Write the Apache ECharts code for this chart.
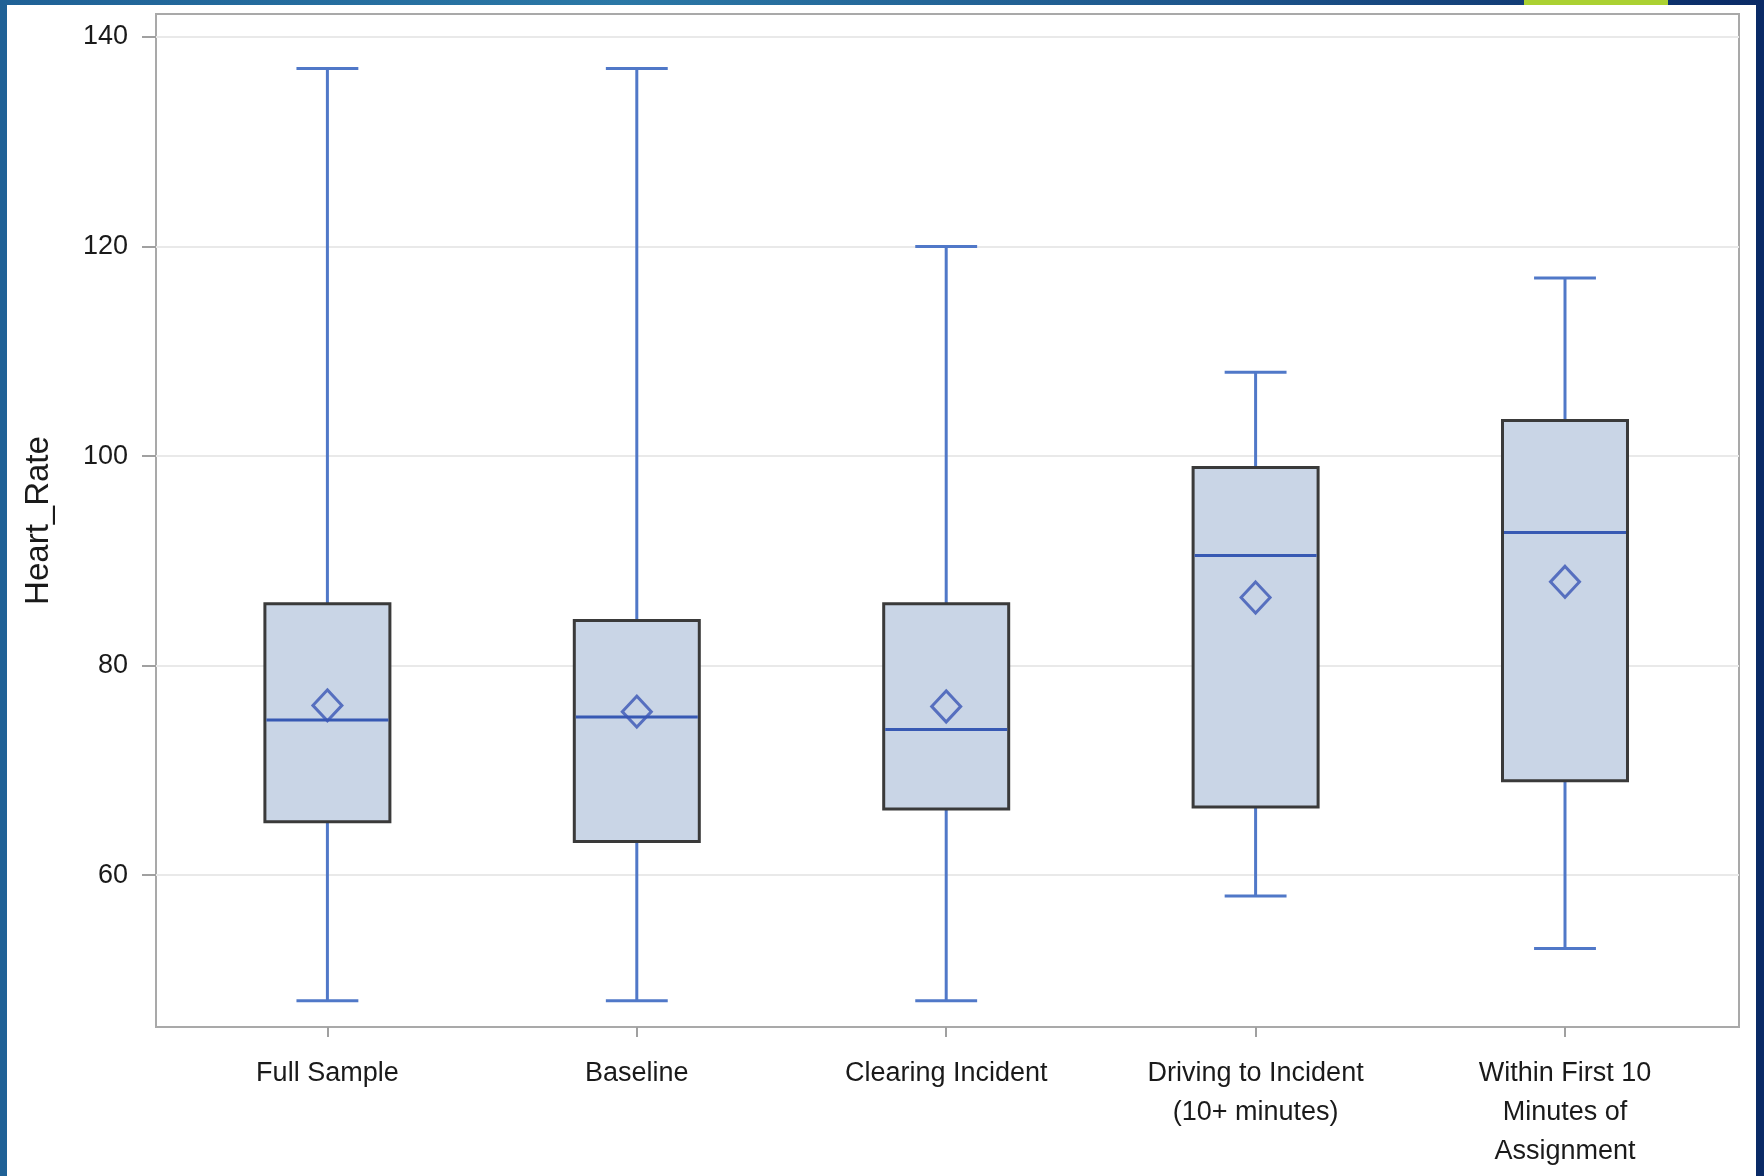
<!DOCTYPE html>
<html>
<head>
<meta charset="utf-8">
<script src="https://cdn.jsdelivr.net/npm/echarts@6/dist/echarts.min.js"></script>
<style>
  html, body { margin: 0; padding: 0; }
  body {
    width: 1764px; height: 1176px; position: relative; overflow: hidden;
    background: linear-gradient(90deg, #1f6196 0%, #2b78a6 35%, #1d548a 70%, #0a2a66 100%);
  }
  #panel { position: absolute; left: 7px; top: 5px; width: 1749px; height: 1171px; background: #fff; }
  #accent { position: absolute; left: 1524px; top: 0; width: 144px; height: 5px; background: #abd132; }
  #chart { position: absolute; left: 0; top: 0; width: 1764px; height: 1176px; }
</style>
</head>
<body>
<div id="panel"></div>
<div id="accent"></div>
<div id="chart"></div>
<script>
const categories = ['Full Sample', 'Baseline', 'Clearing Incident', 'Driving to Incident\n(10+ minutes)', 'Within First 10\nMinutes of\nAssignment']
const whiskerLow = [48, 48, 48, 58, 53]
const q1 = [65.1, 63.2, 66.3, 66.5, 69]
const median = [74.8, 75.1, 73.9, 90.5, 92.7]
const q3 = [85.9, 84.3, 85.9, 98.9, 103.4]
const whiskerHigh = [137, 137, 120, 108, 117]
const means = [76.2, 75.6, 76.1, 86.5, 88]
const yTicks = [60, 80, 100, 120, 140]

const yMin = 45.5
const yMax = 142.2

const boxData = categories.map((c, i) => [i, whiskerLow[i], q1[i], median[i], q3[i], whiskerHigh[i]])
const meanData = categories.map((c, i) => [i, means[i]])

const whiskerColor = '#5078c8'
const medianColor = '#3759b3'

function renderBox (params, api) {
  const i = api.value(0)
  const band = api.size([1, 0])[0]
  const boxW = band * 0.404
  const capW = band * 0.2
  const pLow = api.coord([i, api.value(1)])
  const pQ1 = api.coord([i, api.value(2)])
  const pMed = api.coord([i, api.value(3)])
  const pQ3 = api.coord([i, api.value(4)])
  const pHigh = api.coord([i, api.value(5)])
  const cx = pMed[0]
  const line = (x1, y1, x2, y2, color) => ({
    type: 'line',
    shape: { x1, y1, x2, y2 },
    style: { stroke: color, lineWidth: 3 }
  })
  return {
    type: 'group',
    children: [
      line(cx, pHigh[1], cx, pQ3[1], whiskerColor),
      line(cx, pQ1[1], cx, pLow[1], whiskerColor),
      line(cx - capW / 2, pHigh[1], cx + capW / 2, pHigh[1], whiskerColor),
      line(cx - capW / 2, pLow[1], cx + capW / 2, pLow[1], whiskerColor),
      {
        type: 'rect',
        shape: { x: cx - boxW / 2, y: pQ3[1], width: boxW, height: pQ1[1] - pQ3[1] },
        style: { fill: '#c9d5e6', stroke: '#3a3a3a', lineWidth: 3 }
      },
      line(cx - boxW / 2 + 1.5, pMed[1], cx + boxW / 2 - 1.5, pMed[1], medianColor)
    ]
  }
}

const chart = echarts.init(document.getElementById('chart'), null, { renderer: 'canvas' })

const textFont = 'Liberation Sans, Arial, sans-serif'

const option = {
  animation: false,
  textStyle: { fontFamily: textFont },
  grid: [
    { left: 156, top: 14, width: 1583, height: 1013, show: true, borderColor: '#a9a9a9', borderWidth: 2, backgroundColor: 'transparent' },
    { left: 172.7, top: 14, width: 1547, height: 1013 }
  ],
  xAxis: [
    { gridIndex: 0, type: 'value', min: 0, max: 1, show: false },
    {
      gridIndex: 1,
      type: 'category',
      data: categories,
      boundaryGap: true,
      axisLine: { show: false },
      axisTick: { show: true, alignWithLabel: true, length: 10, lineStyle: { color: '#a0a0a0', width: 2 } },
      axisLabel: { margin: 27, fontSize: 27, lineHeight: 39, color: '#1a1a1a', fontFamily: textFont, interval: 0 },
      splitLine: { show: false }
    }
  ],
  yAxis: [
    {
      gridIndex: 0,
      type: 'value',
      min: yMin,
      max: yMax,
      name: 'Heart_Rate',
      nameLocation: 'middle',
      nameGap: 101,
      nameRotate: 90,
      nameTextStyle: { fontSize: 33, color: '#1a1a1a', fontFamily: textFont },
      axisLine: { show: false },
      axisTick: { show: true, length: 14, customValues: yTicks, lineStyle: { color: '#a0a0a0', width: 2 } },
      axisLabel: { margin: 28, fontSize: 27, color: '#1a1a1a', customValues: yTicks, fontFamily: textFont },
      splitLine: { show: true, lineStyle: { color: '#e9e9e9', width: 2 } }
    },
    { gridIndex: 1, type: 'value', min: yMin, max: yMax, show: false, splitLine: { show: false } }
  ],
  series: [
    {
      type: 'custom',
      xAxisIndex: 1,
      yAxisIndex: 1,
      renderItem: renderBox,
      data: boxData,
      z: 2
    },
    {
      type: 'scatter',
      xAxisIndex: 1,
      yAxisIndex: 1,
      symbol: 'diamond',
      symbolSize: [29, 31],
      itemStyle: { color: 'rgba(0,0,0,0)', borderColor: '#3a55b5', borderWidth: 3 },
      data: meanData,
      z: 3
    }
  ]
}

chart.setOption(option)
</script>
</body>
</html>
